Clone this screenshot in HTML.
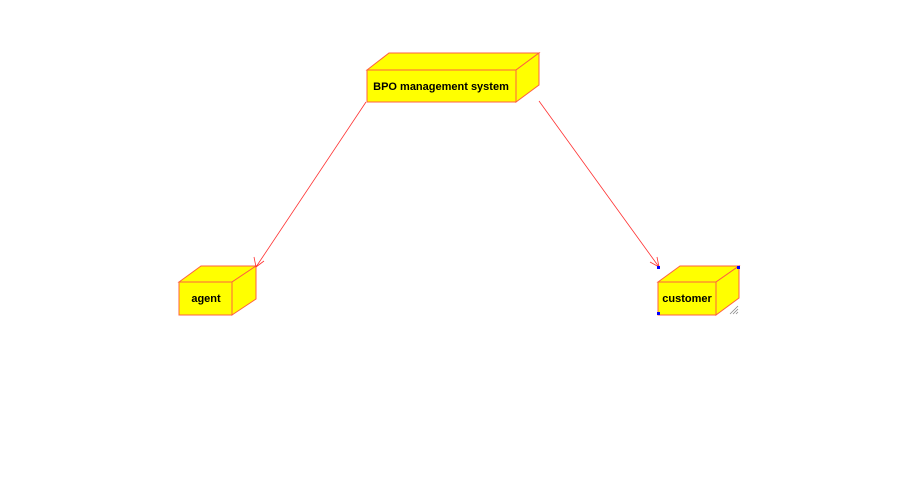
<!DOCTYPE html>
<html><head><style>body{margin:0;background:#fff}svg{display:block}</style></head><body>
<svg width="902" height="498" xmlns="http://www.w3.org/2000/svg" font-family="Liberation Sans, sans-serif" font-weight="bold">
<g fill="#ffff00" stroke="#ff6040" stroke-width="1">
<polygon points="367,70 389,53 539,53 516,70"/>
<polygon points="516,70 539,53 539,85 516,102"/>
<rect x="367" y="70" width="149" height="32"/>
<polygon points="179,282 201,266 256,266 232,282"/>
<polygon points="232,282 256,266 256,299 232,315"/>
<rect x="179" y="282" width="53" height="33"/>
<polygon points="658,282 680,266 739,266 716,282"/>
<polygon points="716,282 739,266 739,298 716,315"/>
<rect x="658" y="282" width="58" height="33"/>
</g>
<text x="441" y="90" font-size="11" text-anchor="middle">BPO management system</text>
<text x="206" y="302" font-size="11" text-anchor="middle">agent</text>
<text x="687" y="302" font-size="11" text-anchor="middle">customer</text>
<g stroke="#ff3030" fill="none" stroke-width="0.8">
<line x1="366" y1="102" x2="256" y2="267"/>
<polyline points="254,257 256,267 264,261"/>
<line x1="539" y1="101" x2="659" y2="267"/>
<polyline points="650,262 659,267 657,257"/>
</g>
<g fill="#0000ff">
<rect x="657" y="266" width="3" height="3"/><rect x="737" y="266" width="3" height="3"/><rect x="657" y="312" width="3" height="3"/>
</g>
<g stroke="#888" stroke-width="0.8"><line x1="730" y1="314" x2="738" y2="306"/><line x1="733" y1="314" x2="738" y2="309"/><line x1="736" y1="314" x2="738" y2="312"/></g>
</svg>
</body></html>
